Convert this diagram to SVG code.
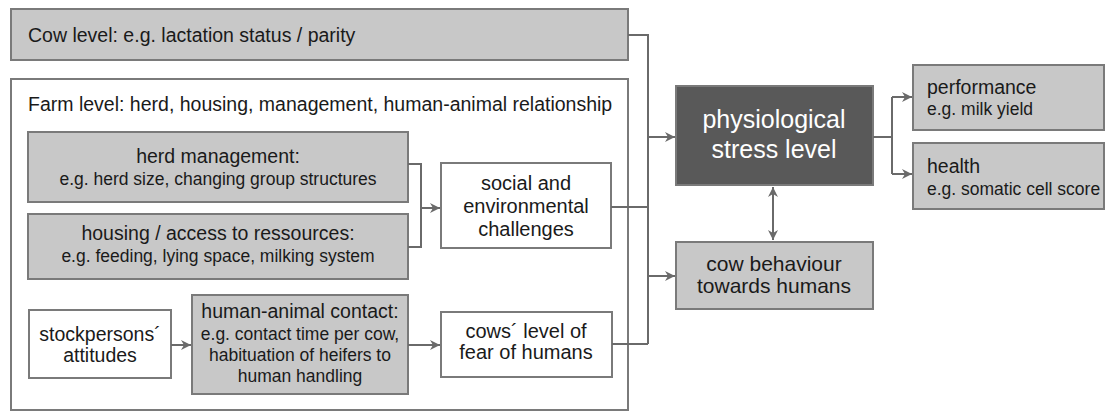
<svg xmlns="http://www.w3.org/2000/svg" width="1105" height="412" viewBox="0 0 1105 412">
<style>
.g{fill:#c8c8c8;stroke:#7a7a7a;stroke-width:2}
.w{fill:#ffffff;stroke:#7a7a7a;stroke-width:2}
.d{fill:#595959;stroke:#7a7a7a;stroke-width:2}
text{font-family:"Liberation Sans",Arial,sans-serif;fill:#1a1a1a}
.c{text-anchor:middle}
.t{font-size:19.5px}
.s{font-size:17.5px}
.m{font-size:20px}
.b{font-size:21px}
.x{font-size:25px;fill:#ffffff}
.ln{fill:none;stroke:#6a6a6a;stroke-width:2}
</style>
<defs>
<marker id="ah" viewBox="0 0 10 10" refX="10" refY="5" markerWidth="10" markerHeight="10" markerUnits="userSpaceOnUse" orient="auto-start-reverse">
<path d="M0,0 L10,5 L0,10 L3,5 z" fill="#6a6a6a"/>
</marker>
</defs>
<g id="cow-level"><rect class="g" x="11" y="9" width="617" height="51"/><text class="t" x="28" y="42">Cow level: e.g. lactation status / parity</text></g>
<g id="farm-level"><rect class="w" x="11" y="79" width="617" height="331"/><text class="t" x="28" y="111">Farm level: herd, housing, management, human-animal relationship</text></g>
<g id="herd-management"><rect class="g" x="28" y="132" width="380" height="70"/><text class="t c" x="218" y="163">herd management:</text><text class="s c" x="218" y="185">e.g. herd size, changing group structures</text></g>
<g id="housing"><rect class="g" x="28" y="214" width="380" height="65"/><text class="t c" x="218" y="240">housing / access to ressources:</text><text class="s c" x="218" y="262">e.g. feeding, lying space, milking system</text></g>
<g id="social"><rect class="w" x="441" y="163" width="170" height="85"/><text class="m c" x="526" y="190">social and</text><text class="m c" x="526" y="213">environmental</text><text class="m c" x="526" y="236">challenges</text></g>
<g id="stockpersons"><rect class="w" x="29" y="310" width="142" height="68"/><text class="t c" x="100" y="341">stockpersons´</text><text class="t c" x="100" y="362">attitudes</text></g>
<g id="human-animal-contact"><rect class="g" x="192" y="295" width="216" height="99"/><text class="t c" x="300" y="318">human-animal contact:</text><text class="s c" x="300" y="340">e.g. contact time per cow,</text><text class="s c" x="300" y="361">habituation of heifers to</text><text class="s c" x="300" y="382">human handling</text></g>
<g id="fear"><rect class="w" x="441" y="312" width="171" height="65"/><text class="m c" x="526" y="338">cows´ level of</text><text class="m c" x="526" y="359">fear of humans</text></g>
<g id="stress"><rect class="d" x="676" y="86" width="197" height="99"/><text class="x c" x="774" y="128">physiological</text><text class="x c" x="774" y="158">stress level</text></g>
<g id="behaviour"><rect class="g" x="676" y="242" width="197" height="67"/><text class="b c" x="774" y="271">cow behaviour</text><text class="b c" x="774" y="293">towards humans</text></g>
<g id="performance"><rect class="g" x="913" y="65" width="191" height="65"/><text class="t" x="927" y="94">performance</text><text class="s" x="927" y="115">e.g. milk yield</text></g>
<g id="health"><rect class="g" x="913" y="143" width="191" height="66"/><text class="t" x="927" y="173">health</text><text class="s" x="927" y="195">e.g. somatic cell score</text></g>
<g id="connectors">
<path class="ln" d="M628,35 H648 V344"/>
<path class="ln" d="M648,137 H675" marker-end="url(#ah)"/>
<path class="ln" d="M648,276 H675" marker-end="url(#ah)"/>
<path class="ln" d="M611,207 H648"/>
<path class="ln" d="M612,344 H648"/>
<path class="ln" d="M408,164 H421 V247 H408"/>
<path class="ln" d="M421,208 H440" marker-end="url(#ah)"/>
<path class="ln" d="M171,345 H191" marker-end="url(#ah)"/>
<path class="ln" d="M408,345 H440" marker-end="url(#ah)"/>
<path class="ln" d="M873,137 H892"/>
<path class="ln" d="M892,97 V174"/>
<path class="ln" d="M892,97 H912" marker-end="url(#ah)"/>
<path class="ln" d="M892,174 H912" marker-end="url(#ah)"/>
<path class="ln" d="M773,187 V240" marker-start="url(#ah)" marker-end="url(#ah)"/>
</g>
</svg>
